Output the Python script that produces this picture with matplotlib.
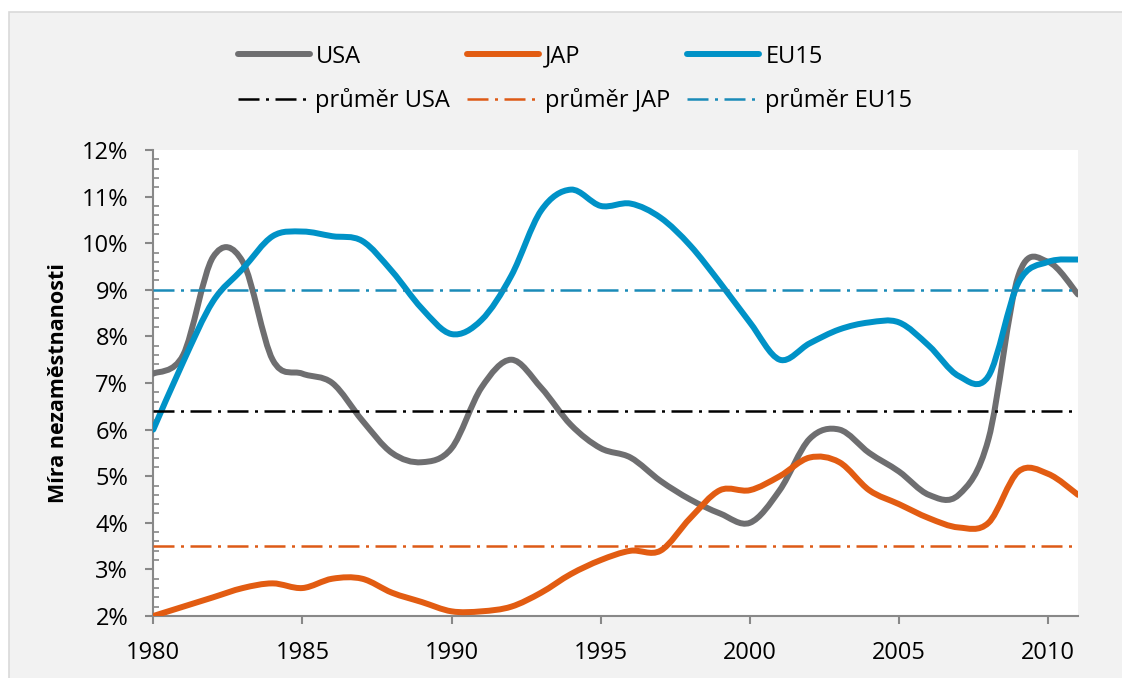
import matplotlib
matplotlib.use('Agg')
import matplotlib.pyplot as plt
from matplotlib.path import Path
from matplotlib.patches import PathPatch, Rectangle
from matplotlib.lines import Line2D
from matplotlib.ticker import MultipleLocator

plt.rcParams['font.family'] = ['Open Sans', 'DejaVu Sans']

# ---------------- data ----------------
years = list(range(1980, 2012))
usa = [7.2, 7.6, 9.7, 9.6, 7.5, 7.2, 7.0, 6.2, 5.5, 5.3, 5.6, 6.9, 7.5, 6.9, 6.1, 5.6,
       5.4, 4.9, 4.5, 4.2, 4.0, 4.7, 5.8, 6.0, 5.5, 5.1, 4.6, 4.6, 5.8, 9.3, 9.6, 8.9]
jap = [2.0, 2.2, 2.4, 2.6, 2.7, 2.6, 2.8, 2.8, 2.5, 2.3, 2.1, 2.1, 2.2, 2.5, 2.9, 3.2,
       3.4, 3.4, 4.1, 4.7, 4.7, 5.0, 5.4, 5.3, 4.7, 4.4, 4.1, 3.9, 4.0, 5.1, 5.05, 4.6]
eu15 = [6.0, 7.45, 8.75, 9.45, 10.15, 10.25, 10.15, 10.05, 9.4, 8.6, 8.05, 8.35, 9.3, 10.7,
        11.15, 10.8, 10.85, 10.55, 9.95, 9.15, 8.3, 7.5, 7.85, 8.15, 8.3, 8.3, 7.8, 7.15,
        7.15, 9.15, 9.6, 9.65]
mean_usa = 6.4
mean_jap = 3.5
mean_eu15 = 9.0

series_names = ['USA', 'JAP', 'EU15']
mean_names = ['průměr USA', 'průměr JAP', 'průměr EU15']
y_ticks = [2, 3, 4, 5, 6, 7, 8, 9, 10, 11, 12]
y_tick_labels = ['2%', '3%', '4%', '5%', '6%', '7%', '8%', '9%', '10%', '11%', '12%']
x_ticks = [1980, 1985, 1990, 1995, 2000, 2005, 2010]
x_tick_labels = ['1980', '1985', '1990', '1995', '2000', '2005', '2010']
y_label = 'Míra nezaměstnanosti'

# ---------------- style ----------------
c_usa = '#6E6E70'
c_jap = '#E25C12'
c_eu = '#0092C7'
c_mean_usa = '#000000'
c_mean_jap = '#DD5A16'
c_mean_eu = '#1A8BB8'
axis_col = '#888888'
FS = 17
dashdot = (0, (8.4, 2.6, 1.2, 2.6))


def smooth_path(xs, ys):
    """Excel-like smoothed line as cubic Bezier path through the data points."""
    n = len(xs)
    verts = [(xs[0], ys[0])]
    codes = [Path.MOVETO]
    for i in range(n - 1):
        x0, y0 = (xs[i - 1], ys[i - 1]) if i > 0 else (xs[i], ys[i])
        x1, y1 = xs[i], ys[i]
        x2, y2 = xs[i + 1], ys[i + 1]
        x3, y3 = (xs[i + 2], ys[i + 2]) if i + 2 < n else (xs[i + 1], ys[i + 1])
        c1 = (x1 + (x2 - x0) / 6.0, y1 + (y2 - y0) / 6.0)
        c2 = (x2 - (x3 - x1) / 6.0, y2 - (y3 - y1) / 6.0)
        verts += [c1, c2, (x2, y2)]
        codes += [Path.CURVE4] * 3
    return Path(verts, codes)


W, H = 1122, 678
fig = plt.figure(figsize=(W / 100, H / 100), dpi=100)
fig.patch.set_facecolor('white')
bg = Rectangle((8.5 / W, -0.02), 1.05, (H - 12) / H + 0.02, transform=fig.transFigure,
               facecolor='#F2F2F2', edgecolor='#D9D9D9', linewidth=1.2, zorder=0)
fig.add_artist(bg)

L, R, B, T = 153.3, 1078, 616, 150
ax = fig.add_axes([L / W, (H - B) / H, (R - L) / W, (B - T) / H])
ax.set_facecolor('white')

lw_main = 4.3
for vals, col in [(usa, c_usa), (jap, c_jap), (eu15, c_eu)]:
    patch = PathPatch(smooth_path(years, vals), facecolor='none', edgecolor=col,
                      linewidth=lw_main, capstyle='round', joinstyle='round', zorder=3)
    ax.add_patch(patch)

lw_mean = 1.8
for m, col in [(mean_usa, c_mean_usa), (mean_jap, c_mean_jap), (mean_eu15, c_mean_eu)]:
    ax.plot([years[0], years[-1]], [m, m], color=col, linewidth=lw_mean,
            linestyle=dashdot, zorder=4)

ax.set_xlim(years[0], years[-1])
ax.set_ylim(y_ticks[0], y_ticks[-1])
ax.set_xticks(x_ticks)
ax.set_xticklabels(x_tick_labels)
ax.set_yticks(y_ticks)
ax.set_yticklabels(y_tick_labels)
ax.yaxis.set_minor_locator(MultipleLocator(0.2))

for s in ['top', 'right']:
    ax.spines[s].set_visible(False)
for s in ['left', 'bottom']:
    ax.spines[s].set_color(axis_col)
    ax.spines[s].set_linewidth(1.5)

ax.tick_params(axis='both', which='major', labelsize=FS, colors=axis_col,
               labelcolor='black', width=1.5, length=6, direction='out')
ax.tick_params(axis='y', which='major', pad=12)
ax.tick_params(axis='x', which='major', pad=12)
ax.tick_params(axis='y', which='minor', direction='in', length=4.3, width=1.2,
               colors=axis_col)

ax.set_ylabel(y_label, fontsize=15.5, fontweight='bold')
ax.yaxis.set_label_coords(-0.103, 0.5)
ax.yaxis.label.set_va('center')

handles = []
labels = []
for name, mname, col, mcol in zip(series_names, mean_names,
                                  [c_usa, c_jap, c_eu],
                                  [c_mean_usa, c_mean_jap, c_mean_eu]):
    handles.append(Line2D([], [], color=col, linewidth=lw_main, solid_capstyle='round'))
    labels.append(name)
    handles.append(Line2D([], [], color=mcol, linewidth=lw_mean, linestyle=dashdot))
    labels.append(mname)

fig.legend(handles, labels, ncol=3, loc='center',
           bbox_to_anchor=(575 / W, 1 - 79 / H), bbox_transform=fig.transFigure,
           frameon=False, fontsize=FS, handlelength=3.05, handletextpad=0.25,
           columnspacing=0.72, labelspacing=0.84)

fig.savefig('out.png', dpi=100, facecolor=fig.get_facecolor())
